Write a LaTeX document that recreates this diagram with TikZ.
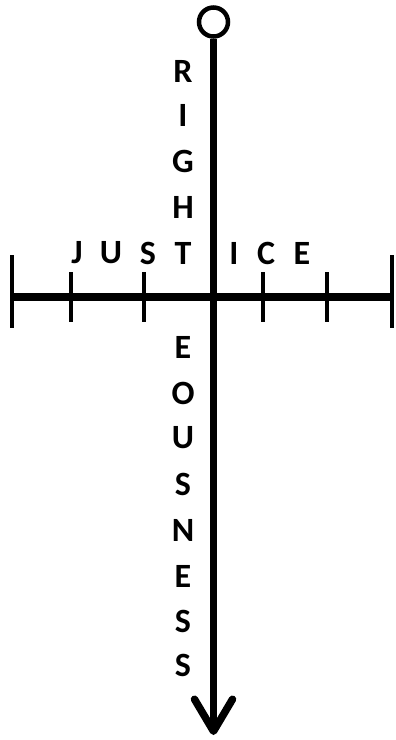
\documentclass[tikz,border=0pt]{standalone}
\usepackage{fontspec}
\setmainfont{Carlito}
\usepackage{tikz}
\usetikzlibrary{arrows.meta}

\tikzset{
	letter/.style={font=\fontsize{34}{34}\selectfont\bfseries,inner sep=0pt},
	barline/.style={line width=7.5pt},
	tickline/.style={line width=4.5pt}
}

\begin{document}
\begin{tikzpicture}[x=1pt,y=-1pt]
			\useasboundingbox(0,0)rectangle(396,740);
			\node[circle,draw,line width=4.5pt,minimum size=29pt,inner sep=0pt](top)at(213.5,22){};
			\coordinate(bottom)at(213.5,735);
			\draw[barline,-{Straight Barb[length=32pt,width=38pt,round]}](top.south)--(bottom);
			\coordinate(left)at(12,297);
			\coordinate(right)at(392,297);
			\draw[barline](left)--(right);
			% ticks along the bar
			\foreach \x/\a/\b in{12/255/328,392/255/328,71/272/322,144/272/322,263/272/322,327/272/322}{
				\coordinate(t\x a)at(\x,\a);
				\coordinate(t\x b)at(\x,\b);
				\draw[tickline](t\x a)--(t\x b);
			}
			% across
			\foreach \x/\lb in{77/J,111/U,148/S,234/I,266/C,302/E}{
				\node[letter](h\x)at(\x,253){\lb};
			}
			% down
			\foreach \y/\lb in{71/R,115/I,161/G,207/H,253/T,347/E,393/O,438/U,484/S,530/N,576/E,621/S,665/S}{
				\node[letter](v\y)at(183,\y){\lb};
			}
		\end{tikzpicture}
\end{document}
